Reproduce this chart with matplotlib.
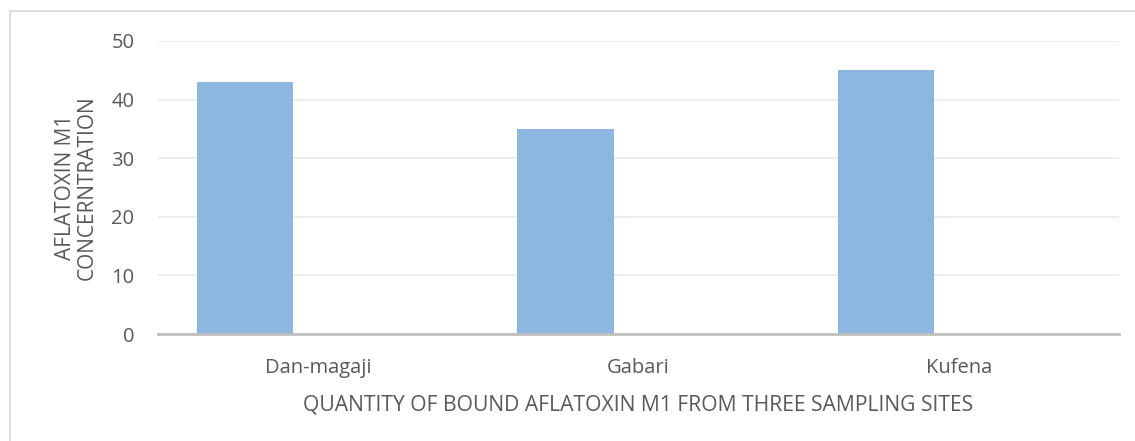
import matplotlib

matplotlib.use("Agg")
import matplotlib.pyplot as plt
import numpy as np
from matplotlib.patches import Rectangle

sites = ["Dan-magaji", "Gabari", "Kufena"]
bound_m1 = [43, 35, 45]
y_ticks = [0, 10, 20, 30, 40, 50]

plt.rcParams["font.family"] = ["Open Sans", "DejaVu Sans"]
text_color = "#595959"

fig = plt.figure(figsize=(11.35, 4.41), dpi=100)
ax = fig.add_axes([158 / 1135, 1 - 334 / 441, 961 / 1135, 293 / 441])

x = np.arange(len(sites))
ax.bar(x - 0.228, bound_m1, 0.301, color="#8DB6E0", zorder=2)

ax.set_xlim(-0.5, len(sites) - 0.5)
ax.set_ylim(0, 50)
ax.set_yticks(y_ticks)
ax.set_xticks(x)
ax.set_xticklabels(sites)
ax.tick_params(axis="both", length=0, labelsize=14.5, colors=text_color)
ax.tick_params(axis="y", pad=17)
ax.tick_params(axis="x", pad=17)
ax.grid(axis="y", color="#EBEBEB", linewidth=1.2, zorder=0)
for side in ("top", "right", "left"):
    ax.spines[side].set_visible(False)
ax.spines["bottom"].set_color("#BFBFBF")
ax.spines["bottom"].set_linewidth(2)
ax.spines["bottom"].set_zorder(3)

ax.set_xlabel("QUANTITY OF BOUND AFLATOXIN M1 FROM THREE SAMPLING SITES",
              fontsize=15.2, color=text_color, labelpad=12)
ax.set_ylabel("AFLATOXIN M1\nCONCERNTRATION", fontsize=15, color=text_color,
              labelpad=10, linespacing=1.05)

# chart area border (clipped at right and bottom in the source image)
fig.patches.append(Rectangle((10 / 1135, -0.1), 1.2, 1 - 11 / 441 + 0.1,
                             transform=fig.transFigure, fill=False,
                             edgecolor="#D9D9D9", linewidth=1.2))

plt.savefig("out.png", dpi=100)
plt.close()
